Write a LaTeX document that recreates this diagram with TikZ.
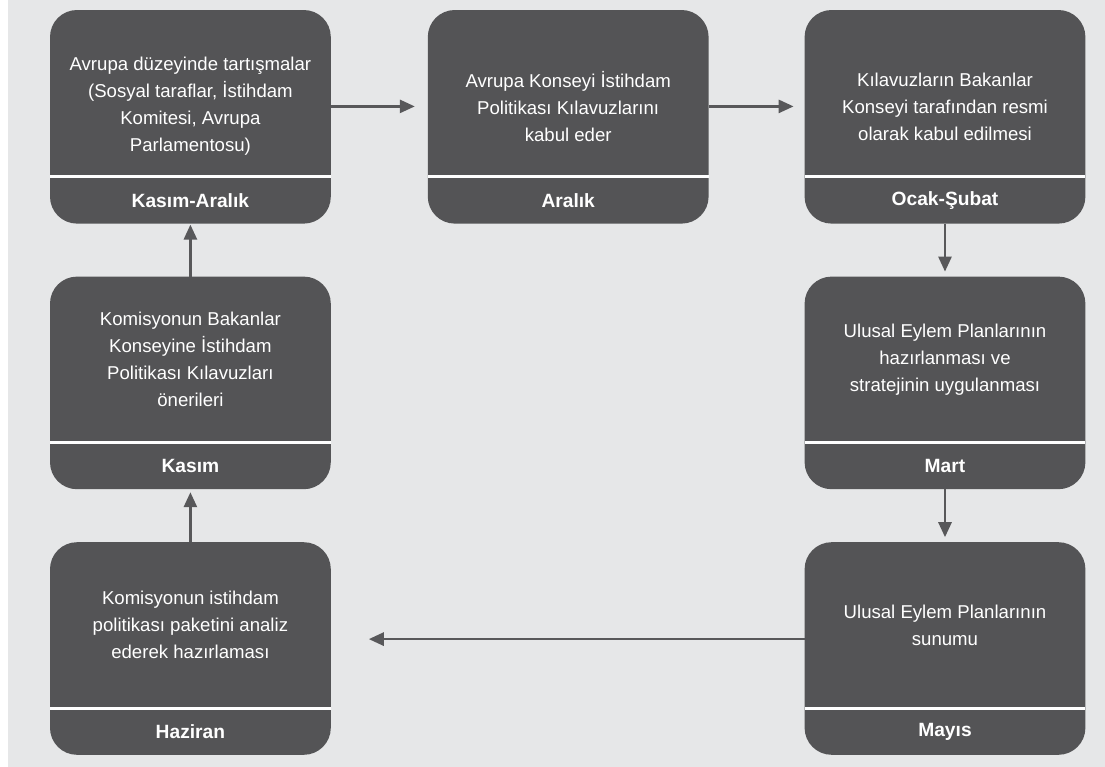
\documentclass[tikz,border=0pt]{standalone}
\usepackage{fontspec}
\setmainfont{Liberation Sans}
\usetikzlibrary{positioning,arrows.meta,backgrounds}
\definecolor{boxgray}{RGB}{84,84,86}
\definecolor{bggray}{RGB}{230,231,232}
\definecolor{arrowgray}{RGB}{88,88,90}

\begin{document}
\begin{tikzpicture}[
    desc/.style={rectangle, inner sep=0pt, minimum width=140pt, minimum height=82.5pt, align=center, text=white, font=\fontsize{9.3pt}{13.5pt}\selectfont},
    toprow/.style={minimum height=70pt},
    period/.style={rectangle, inner sep=0pt, minimum width=140pt, minimum height=23pt, align=center, text=white, font=\fontsize{9.6pt}{12pt}\selectfont\bfseries},
    card/.style={fill=boxgray, rounded corners=13.5pt},
    sep/.style={draw=white, line width=1.5pt},
    arrow/.style={-{Triangle[width=6.5pt,length=7.5pt]}, draw=arrowgray, line width=1.35pt}
]
\useasboundingbox (0,0) rectangle (552.5pt,-383.5pt);

% top row
\node[desc, toprow, anchor=north west] (avrupa) at (25pt,-18pt) {Avrupa düzeyinde tartışmalar\\(Sosyal taraflar, İstihdam\\Komitesi, Avrupa\\Parlamentosu)};
\node[period, below=0pt of avrupa] (kasimaralik) {Kasım-Aralık};
\node[desc, toprow, right=48.5pt of avrupa] (konsey) {Avrupa Konseyi İstihdam\\Politikası Kılavuzlarını\\kabul eder};
\node[period, below=0pt of konsey] (aralik) {Aralık};
\node[desc, toprow, right=48pt of konsey] (resmi) {Kılavuzların Bakanlar\\Konseyi tarafından resmi\\olarak kabul edilmesi};
\node[period, below=0pt of resmi] (ocaksubat) {Ocak-Şubat};

% right column
\node[desc, below=26.5pt of ocaksubat] (ulusal) {Ulusal Eylem Planlarının\\hazırlanması ve\\stratejinin uygulanması};
\node[period, below=0pt of ulusal] (mart) {Mart};
\node[desc, below=26.5pt of mart] (sunum) {Ulusal Eylem Planlarının\\sunumu};
\node[period, below=0pt of sunum] (mayis) {Mayıs};

% left column
\node[desc, below=26.5pt of kasimaralik] (oneri) {Komisyonun Bakanlar\\Konseyine İstihdam\\Politikası Kılavuzları\\önerileri};
\node[period, below=0pt of oneri] (kasim) {Kasım};
\node[desc, below=26.5pt of kasim] (paket) {Komisyonun istihdam\\politikası paketini analiz\\ederek hazırlaması};
\node[period, below=0pt of paket] (haziran) {Haziran};

\begin{scope}[on background layer]
\fill[bggray] (4pt,0) rectangle (552.5pt,-383.5pt);
\fill[card] ([yshift=13pt]avrupa.north west) rectangle (kasimaralik.south east);
\fill[card] ([yshift=13pt]konsey.north west) rectangle (aralik.south east);
\fill[card] ([yshift=13pt]resmi.north west) rectangle (ocaksubat.south east);
\fill[card] (ulusal.north west) rectangle (mart.south east);
\fill[card] (sunum.north west) rectangle (mayis.south east);
\fill[card] (oneri.north west) rectangle (kasim.south east);
\fill[card] (paket.north west) rectangle (haziran.south east);
\end{scope}

\draw[sep] (avrupa.south west) -- (avrupa.south east);
\draw[sep] (konsey.south west) -- (konsey.south east);
\draw[sep] (resmi.south west) -- (resmi.south east);
\draw[sep] (ulusal.south west) -- (ulusal.south east);
\draw[sep] (sunum.south west) -- (sunum.south east);
\draw[sep] (oneri.south west) -- (oneri.south east);
\draw[sep] (paket.south west) -- (paket.south east);

\draw[arrow, shorten >=6.5pt] (avrupa) -- (konsey);
\draw[arrow, shorten >=5.5pt] (konsey) -- (resmi);
\draw[arrow, shorten >=2.5pt] (ocaksubat) -- (ulusal);
\draw[arrow, shorten >=2.5pt] (mart) -- (sunum);
\draw[arrow, shorten >=19pt] ([yshift=-7pt]sunum.west) -- ([yshift=-7pt]paket.east);
\draw[arrow, shorten >=1.5pt] (paket) -- (kasim);
\draw[arrow, shorten >=0.5pt] (oneri) -- (kasimaralik);
\end{tikzpicture}
\end{document}
